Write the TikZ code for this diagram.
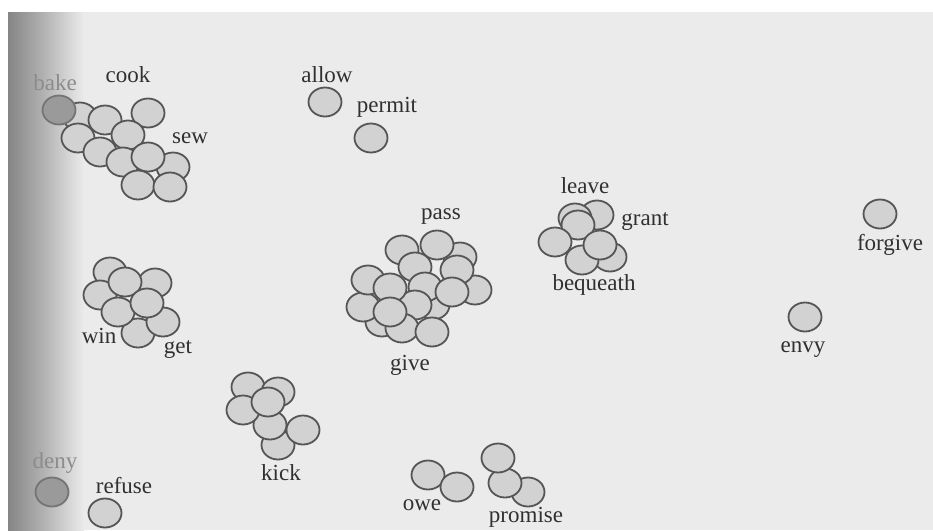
\documentclass[tikz,border=0pt]{standalone}
\usepackage{fontspec}
\setmainfont{Liberation Serif}
\usetikzlibrary{shapes.geometric}
\definecolor{bg}{HTML}{EBEBEB}
\definecolor{dotfill}{HTML}{D2D2D2}
\definecolor{dotline}{HTML}{555555}
\definecolor{txt}{HTML}{303030}
\definecolor{shadeA}{HTML}{858585}
\definecolor{shadeB}{HTML}{B0B0B0}
\definecolor{faint}{HTML}{8C8C8C}
\definecolor{darkfill}{HTML}{9A9A9A}
\definecolor{darkline}{HTML}{747474}
\begin{document}
\begin{tikzpicture}[x=1pt,y=-1pt,
  dot/.style={ellipse, draw=dotline, fill=dotfill, line width=1.8pt,
    minimum width=33pt, minimum height=29pt, inner sep=0pt},
  darkdot/.style={dot, fill=darkfill, draw=darkline},
  lbl/.style={text=txt, font=\fontsize{23}{25}\selectfont, inner sep=0pt, anchor=base},
  faintlbl/.style={lbl, text=faint}]
% background
\fill[white] (0,0) rectangle (933,530);
\useasboundingbox (0,0) rectangle (933,530);
\fill[bg] (8,12) rectangle (933,530);
\shade[left color=shadeA, right color=shadeB] (8,12) rectangle (42,530);
\shade[left color=shadeB, right color=bg] (42,12) rectangle (84,530);

% cook / sew cluster
\node[dot] (a1) at (80,117) {};
\node[dot] (a2) at (105,120) {};
\node[dot] (a3) at (148,113) {};
\node[darkdot] (bk) at (59,110) {};
\node[dot] (a4) at (78,138) {};
\node[dot] (a5) at (100,152) {};
\node[dot] (a6) at (128,135) {};
\node[dot] (a7) at (123,162) {};
\node[dot] (a8) at (173,167) {};
\node[dot] (a9) at (148,157) {};
\node[dot] (a10) at (138,185) {};
\node[dot] (a11) at (170,187) {};

% win / get cluster
\node[dot] (w1) at (110,272) {};
\node[dot] (w2) at (155,283) {};
\node[dot] (w3) at (100,295) {};
\node[dot] (w4) at (125,282) {};
\node[dot] (w5) at (138,333) {};
\node[dot] (w6) at (163,322) {};
\node[dot] (w7) at (118,312) {};
\node[dot] (w8) at (147,303) {};

% give / pass cluster
\node[dot] (g1) at (475,290) {};
\node[dot] (g2) at (460,257) {};
\node[dot] (g3) at (402,250) {};
\node[dot] (g4) at (437,245) {};
\node[dot] (g5) at (415,267) {};
\node[dot] (g6) at (457,270) {};
\node[dot] (g7) at (433,305) {};
\node[dot] (g8) at (425,287) {};
\node[dot] (g9) at (415,305) {};
\node[dot] (g10) at (382,322) {};
\node[dot] (g11) at (402,328) {};
\node[dot] (g12) at (363,307) {};
\node[dot] (g13) at (368,280) {};
\node[dot] (g14) at (390,288) {};
\node[dot] (g15) at (390,312) {};
\node[dot] (g16) at (452,292) {};
\node[dot] (g17) at (432,332) {};

% leave / grant / bequeath cluster
\node[dot] (l1) at (597,215) {};
\node[dot] (l2) at (575,218) {};
\node[dot] (l3) at (578,225) {};
\node[dot] (l4) at (610,257) {};
\node[dot] (l5) at (582,260) {};
\node[dot] (l6) at (555,242) {};
\node[dot] (l7) at (600,245) {};

% kick cluster
\node[dot] (k1) at (278,445) {};
\node[dot] (k2) at (270,425) {};
\node[dot] (k3) at (303,430) {};
\node[dot] (k4) at (248,387) {};
\node[dot] (k5) at (278,392) {};
\node[dot] (k6) at (243,410) {};
\node[dot] (k7) at (268,402) {};

% owe / promise
\node[dot] (o1) at (428,475) {};
\node[dot] (o2) at (457,487) {};
\node[dot] (p1) at (528,492) {};
\node[dot] (p2) at (505,483) {};
\node[dot] (p3) at (498,458) {};

% singles
\node[dot] (al) at (325,102) {};
\node[dot] (pm) at (371,138) {};
\node[dot] (fg) at (880,214) {};
\node[dot] (en) at (805,317) {};
\node[dot] (rf) at (105,513) {};
\node[darkdot] (dn) at (52,492) {};

% labels
\node[faintlbl] (tbake) at (55,90) {bake};
\node[lbl] (tcook) at (128,82) {cook};
\node[lbl] (tsew) at (190,143) {sew};
\node[lbl] (tallow) at (327,82) {allow};
\node[lbl] (tpermit) at (387,112) {permit};
\node[lbl] (tpass) at (441,219) {pass};
\node[lbl] (tgive) at (410,370) {give};
\node[lbl] (tleave) at (585,193) {leave};
\node[lbl] (tgrant) at (645,225) {grant};
\node[lbl] (tbeq) at (594,290) {bequeath};
\node[lbl] (tkick) at (281,480) {kick};
\node[lbl] (twin) at (99,343) {win};
\node[lbl] (tget) at (178,353) {get};
\node[faintlbl] (tdeny) at (55,468) {deny};
\node[lbl] (trefuse) at (124,493) {refuse};
\node[lbl] (towe) at (422,510) {owe};
\node[lbl] (tpromise) at (526,522) {promise};
\node[lbl] (tforgive) at (890,250) {forgive};
\node[lbl] (tenvy) at (803,352) {envy};
\end{tikzpicture}
\end{document}
